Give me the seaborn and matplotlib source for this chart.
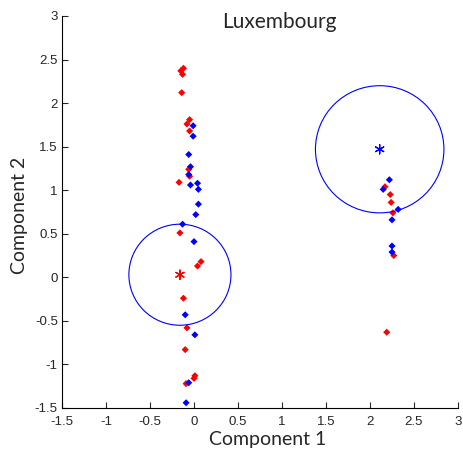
import matplotlib
matplotlib.use("Agg")
import matplotlib.pyplot as plt
import seaborn as sns
import pandas as pd
from matplotlib.patches import Circle

# Red group points
red_x = [-0.12, -0.15, -0.13, -0.14, -0.05, -0.08, -0.05, -0.06, -0.05, -0.17, -0.16,
         0.08, 0.04, -0.12, -0.08, -0.10, 0.01, 0.00, -0.09,
         2.17, 2.23, 2.24, 2.26, 2.27, 2.19]
red_y = [2.40, 2.37, 2.33, 2.12, 1.81, 1.76, 1.68, 1.24, 1.16, 1.09, 0.51,
         0.18, 0.13, -0.24, -0.58, -0.83, -1.13, -1.16, -1.22,
         1.04, 0.95, 0.86, 0.74, 0.25, -0.63]
# Blue group points
blue_x = [-0.01, -0.01, -0.06, -0.04, -0.06, -0.04, 0.04, 0.05, 0.05, 0.02, -0.13, 0.00,
          -0.10, 0.01, -0.06, -0.09,
          2.22, 2.15, 2.32, 2.25, 2.25, 2.25]
blue_y = [1.74, 1.62, 1.41, 1.27, 1.18, 1.06, 1.08, 1.01, 0.84, 0.72, 0.61, 0.41,
          -0.43, -0.66, -1.21, -1.44,
          1.12, 1.01, 0.78, 0.66, 0.36, 0.29]
# Cluster centres and radii
center_x = [-0.16, 2.11]
center_y = [0.03, 1.47]
center_group = ["red", "blue"]
radii = [0.58, 0.73]

xticks = [-1.5, -1, -0.5, 0, 0.5, 1, 1.5, 2, 2.5, 3]
yticks = [-1.5, -1, -0.5, 0, 0.5, 1, 1.5, 2, 2.5, 3]
xtick_labels = ["-1.5", "-1", "-0.5", "0", "0.5", "1", "1.5", "2", "2.5", "3"]
ytick_labels = ["-1.5", "-1", "-0.5", "0", "0.5", "1", "1.5", "2", "2.5", "3"]

sns.set_style("ticks")
plt.rcParams["font.family"] = ["Liberation Sans", "DejaVu Sans"]

df = pd.DataFrame({
    "x": red_x + blue_x,
    "y": red_y + blue_y,
    "group": ["red"] * len(red_x) + ["blue"] * len(blue_x),
})
cdf = pd.DataFrame({"x": center_x, "y": center_y, "group": center_group})
pal = {"red": "#ff0000", "blue": "#0000ff"}

fig = plt.figure(figsize=(4.64, 4.62), dpi=100)
ax = fig.add_axes([62 / 464, 1 - 408 / 462, 396 / 464, 392 / 462])

sns.scatterplot(data=df, x="x", y="y", hue="group", palette=pal, marker="D",
                s=13, linewidth=0, legend=False, ax=ax)
sns.scatterplot(data=cdf, x="x", y="y", hue="group", palette=pal, marker=(6, 2, 0),
                s=45, linewidth=0.9, legend=False, ax=ax)
for cx, cy, r in zip(center_x, center_y, radii):
    ax.add_patch(Circle((cx, cy), r, fill=False, edgecolor="#0000ff", linewidth=0.8))

ax.set_xlim(-1.5, 3)
ax.set_ylim(-1.5, 3)
ax.set_xticks(xticks)
ax.set_xticklabels(xtick_labels)
ax.set_yticks(yticks)
ax.set_yticklabels(ytick_labels)
ax.tick_params(direction="in", length=4, width=0.8, labelsize=9.5)
ax.tick_params(axis="x", pad=6)
ax.tick_params(axis="y", pad=3)
sns.despine(ax=ax)
for s in ["left", "bottom"]:
    ax.spines[s].set_linewidth(0.8)
    ax.spines[s].set_color("black")

ax.set_xlabel("")
ax.set_ylabel("")
fig.text(268 / 464, 1 - 440 / 462, "Component 1", ha="center", va="center",
         fontsize=14, family=["Lato", "DejaVu Sans"])
fig.text(20 / 464, 1 - 215 / 462, "Component 2", ha="center", va="center",
         rotation=90, fontsize=14, family=["Lato", "DejaVu Sans"])
fig.text(279 / 464, 1 - 22 / 462, "Luxembourg", ha="center", va="center",
         fontsize=15, family=["Lato", "DejaVu Sans"])

fig.savefig("out.png", dpi=100)
